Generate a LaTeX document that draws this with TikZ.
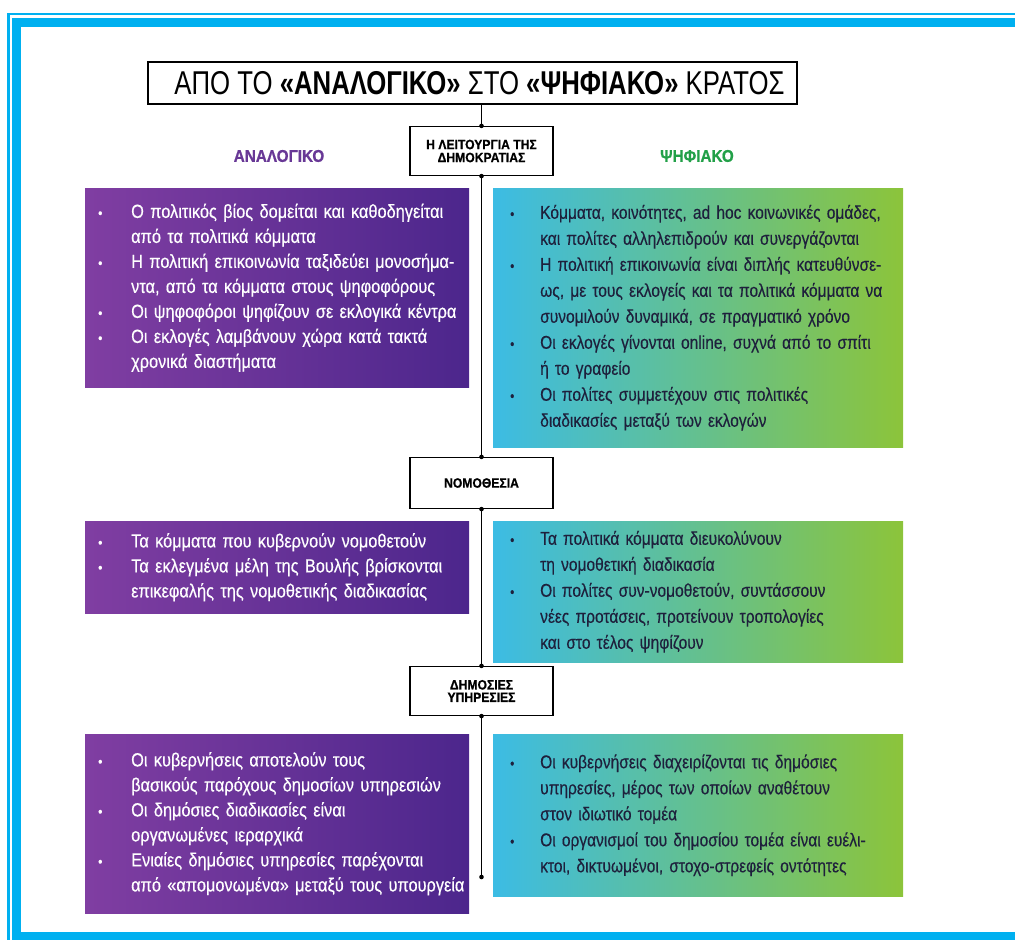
\documentclass[tikz,border=0pt]{standalone}
\usepackage{fontspec}
\setmainfont{Liberation Sans}
\newfontfamily\bodyf[FakeStretch=0.86,FakeBold=0.4,WordSpace=0.75]{Liberation Sans}
\newfontfamily\bodyg[FakeStretch=0.84,FakeBold=0.3,WordSpace=0.75]{Liberation Sans}
\newfontfamily\headf[FakeStretch=0.9,FakeBold=0.8]{Liberation Sans}
\newfontfamily\titlef[FakeStretch=0.78]{Liberation Sans}
\definecolor{framec}{RGB}{0,176,240}
\definecolor{purL}{RGB}{128,62,162}
\definecolor{purR}{RGB}{76,38,140}
\definecolor{cyanL}{RGB}{60,188,228}
\definecolor{greenR}{RGB}{140,196,58}
\definecolor{analc}{RGB}{104,56,150}
\definecolor{psifc}{RGB}{34,160,72}
\definecolor{darktxt}{RGB}{30,32,60}
\newcommand\bulA{\hspace*{13pt}\makebox[33pt][l]{\fontsize{14}{14}\selectfont•}}
\newcommand\indA{\hspace*{46pt}}
\newcommand\bulB{\hspace*{17pt}\makebox[30pt][l]{\fontsize{14}{14}\selectfont•}}
\newcommand\indB{\hspace*{47pt}}
\tikzset{
  catbox/.style={draw=black, line width=1.2pt, fill=white, minimum width=143pt,
    minimum height=49pt, inner sep=0pt, align=center,
    font=\headf\bfseries\fontsize{13.5}{13}\selectfont},
  anabox/.style={left color=purL, right color=purR, anchor=north west,
    inner xsep=0pt, inner ysep=0pt, text width=384pt, text=white, align=left,
    font=\bodyf\fontsize{19}{25}\selectfont},
  digbox/.style={left color=cyanL, right color=greenR, anchor=north west,
    inner xsep=0pt, inner ysep=0pt, text width=410pt, text=darktxt, align=left,
    font=\bodyg\fontsize{18.5}{26}\selectfont},
  colhead/.style={font=\headf\bfseries\fontsize{17}{17}\selectfont},
  joint/.style={fill=black},
  spine/.style={draw=black, line width=1pt}
}
\begin{document}
\begin{tikzpicture}[x=1pt,y=-1pt]
\useasboundingbox (0,0) rectangle (1015,940);
% frame
\draw[framec, line width=2.7pt] (8.7,14) rectangle (1060,980);
\draw[framec, line width=9pt] (16.5,22.8) rectangle (1050,936);
% title
\node[draw=black, line width=1.2pt, minimum width=649pt, minimum height=42pt,
  inner sep=0pt, font=\titlef\fontsize{33}{33}\selectfont] (title) at (472.5,83)
  {\hspace*{14pt}ΑΠΟ ΤΟ {\bfseries«ΑΝΑΛΟΓΙΚΟ»} ΣΤΟ {\bfseries«ΨΗΦΙΑΚΟ»} ΚΡΑΤΟΣ};
% category boxes
\node[catbox] (catA) at (481.5,151) {Η ΛΕΙΤΟΥΡΓΙΑ ΤΗΣ\\ΔΗΜΟΚΡΑΤΙΑΣ};
\node[catbox, minimum height=51pt] (catB) at (481.5,483) {ΝΟΜΟΘΕΣΙΑ};
\node[catbox, font=\headf\bfseries\fontsize{13.5}{12.5}\selectfont] (catC) at (481.5,691) {ΔΗΜΟΣΙΕΣ\\ΥΠΗΡΕΣΙΕΣ};
% column headers
\node[colhead, text=analc] (hA) at (279,156) {ΑΝΑΛΟΓΙΚΟ};
\node[colhead, text=psifc] (hD) at (697,156) {ΨΗΦΙΑΚΟ};
% content boxes
\node[anabox, minimum height=199pt] (a1) at (85,188) {%
\bulA Ο πολιτικός βίος δομείται και καθοδηγείται\\
\indA από τα πολιτικά κόμματα\\
\bulA Η πολιτική επικοινωνία ταξιδεύει μονοσήμα-\\
\indA ντα, από τα κόμματα στους ψηφοφόρους\\
\bulA Οι ψηφοφόροι ψηφίζουν σε εκλογικά κέντρα\\
\bulA Οι εκλογές λαμβάνουν χώρα κατά τακτά\\
\indA χρονικά διαστήματα};
\node[digbox, minimum height=259pt] (d1) at (493,188) {%
\bulB Κόμματα, κοινότητες, ad hoc κοινωνικές ομάδες,\\
\indB και πολίτες αλληλεπιδρούν και συνεργάζονται\\
\bulB Η πολιτική επικοινωνία είναι διπλής κατευθύνσε-\\
\indB ως, με τους εκλογείς και τα πολιτικά κόμματα να\\
\indB συνομιλούν δυναμικά, σε πραγματικό χρόνο\\
\bulB Οι εκλογές γίνονται online, συχνά από το σπίτι\\
\indB ή το γραφείο\\
\bulB Οι πολίτες συμμετέχουν στις πολιτικές\\
\indB διαδικασίες μεταξύ των εκλογών};
\node[anabox, minimum height=92pt] (a2) at (85,521) {%
\bulA Τα κόμματα που κυβερνούν νομοθετούν\\
\bulA Τα εκλεγμένα μέλη της Βουλής βρίσκονται\\
\indA επικεφαλής της νομοθετικής διαδικασίας};
\node[digbox, minimum height=141pt] (d2) at (493,521) {%
\bulB Τα πολιτικά κόμματα διευκολύνουν\\
\indB τη νομοθετική διαδικασία\\
\bulB Οι πολίτες συν-νομοθετούν, συντάσσουν\\
\indB νέες προτάσεις, προτείνουν τροπολογίες\\
\indB και στο τέλος ψηφίζουν};
\node[anabox, minimum height=179pt] (a3) at (85,734) {%
\bulA Οι κυβερνήσεις αποτελούν τους\\
\indA βασικούς παρόχους δημοσίων υπηρεσιών\\
\bulA Οι δημόσιες διαδικασίες είναι\\
\indA οργανωμένες ιεραρχικά\\
\bulA Ενιαίες δημόσιες υπηρεσίες παρέχονται\\
\indA από «απομονωμένα» μεταξύ τους υπουργεία};
\node[digbox, minimum height=162pt] (d3) at (493,734) {%
\bulB Οι κυβερνήσεις διαχειρίζονται τις δημόσιες\\
\indB υπηρεσίες, μέρος των οποίων αναθέτουν\\
\indB στον ιδιωτικό τομέα\\
\bulB Οι οργανισμοί του δημοσίου τομέα είναι ευέλι-\\
\indB κτοι, δικτυωμένοι, στοχο-στρεφείς οντότητες};
% spine
\coordinate (top) at (catA.north |- title.south);
\coordinate (bottom) at (481.5,877);
\draw[spine] (top) -- (catA.north);
\draw[spine] (catA.south) -- (catB.north);
\draw[spine] (catB.south) -- (catC.north);
\draw[spine] (catC.south) -- (bottom);
\foreach \p in {catA.north,catA.south,catB.north,catB.south,catC.north,catC.south,bottom}
  \fill[joint] (\p) circle (2.3pt);
\end{tikzpicture}
\end{document}
